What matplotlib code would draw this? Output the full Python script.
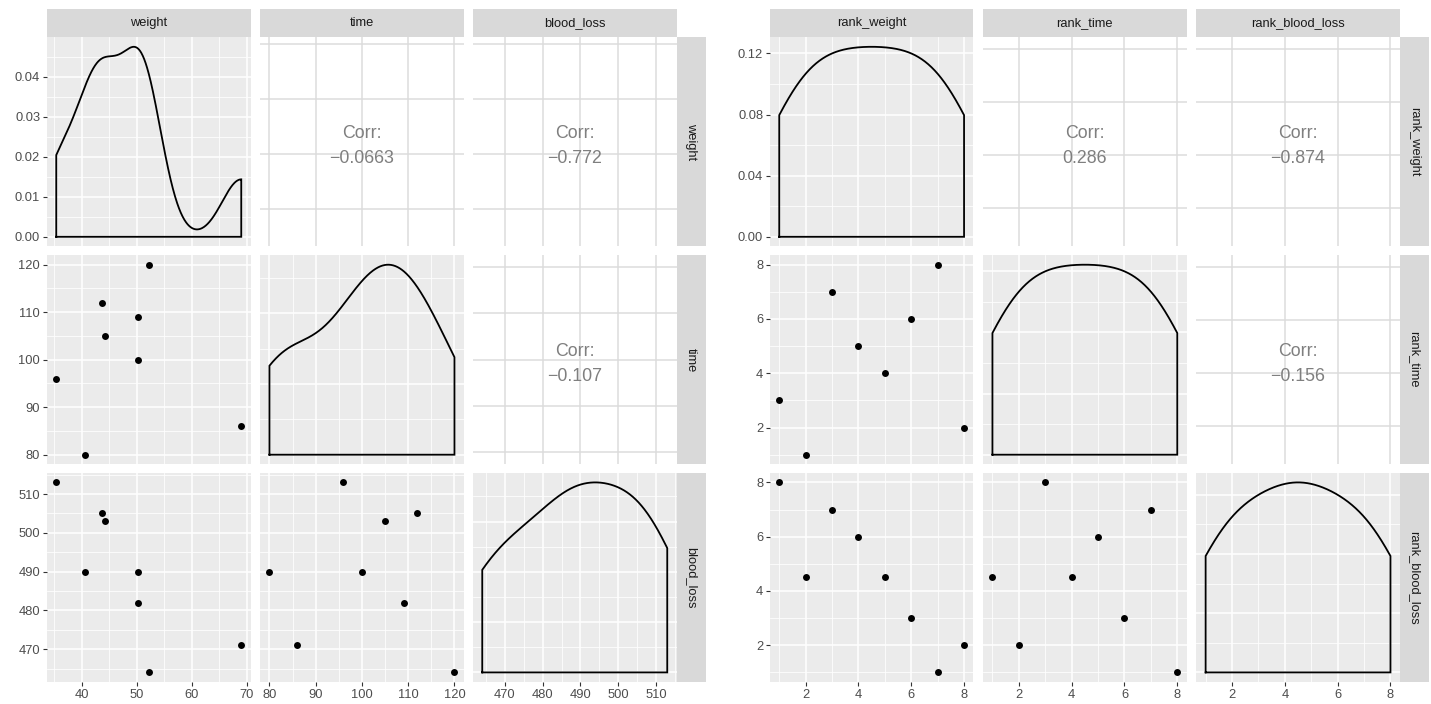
import numpy as np
import matplotlib
matplotlib.use("Agg")
import matplotlib.pyplot as plt
from matplotlib.ticker import MaxNLocator

plt.rcParams['font.family'] = ['Liberation Sans', 'DejaVu Sans']

# ---------------- data ----------------
weight = [44.3, 40.6, 69.0, 43.7, 50.3, 50.2, 35.4, 52.2]
time = [105, 80, 86, 112, 109, 100, 96, 120]
blood_loss = [503, 490, 471, 505, 482, 490, 513, 464]
rank_weight = [4, 2, 8, 3, 6, 5, 1, 7]
rank_time = [5, 1, 2, 7, 6, 4, 3, 8]
rank_blood_loss = [6, 4.5, 2, 7, 3, 4.5, 8, 1]

left_names = ["weight", "time", "blood_loss"]
right_names = ["rank_weight", "rank_time", "rank_blood_loss"]

left_corr = {(0, 1): "\u22120.0663", (0, 2): "\u22120.772", (1, 2): "\u22120.107"}
right_corr = {(0, 1): "0.286", (0, 2): "\u22120.874", (1, 2): "\u22120.156"}

weight_breaks = [40, 50, 60, 70]
time_breaks = [80, 90, 100, 110, 120]
blood_loss_breaks = [470, 480, 490, 500, 510]
rank_breaks = [2, 4, 6, 8]
density_left_breaks = [0.00, 0.01, 0.02, 0.03, 0.04]
density_right_breaks = [0.00, 0.04, 0.08, 0.12]

# ---------------- helpers ----------------
W, H = 1431, 704
fig = plt.figure(figsize=(W / 100, H / 100), dpi=100)
fig.patch.set_facecolor("white")

PANEL_BG = "#EBEBEB"
STRIP_BG = "#D9D9D9"
TICK_COL = "#333333"
LABEL_COL = "#4D4D4D"
FS_TICK = 9.3
FS_STRIP = 9.3


def rect(x0, y0, x1, y1):
    return [x0 / W, 1 - y1 / H, (x1 - x0) / W, (y1 - y0) / H]


def expand(lo, hi, f=0.05):
    d = (hi - lo) * f
    return lo - d, hi + d


def minor_breaks(b, lim):
    b = list(b)
    if len(b) < 2:
        return []
    d = b[1] - b[0]
    ext = [b[0] - d] + b + [b[-1] + d]
    mids = [(ext[i] + ext[i + 1]) / 2 for i in range(len(ext) - 1)]
    return [m for m in mids if lim[0] <= m <= lim[1]]


def bw_nrd0(x):
    x = np.asarray(x, float)
    sd = np.std(x, ddof=1)
    q75, q25 = np.percentile(x, [75, 25])
    lo = min(sd, (q75 - q25) / 1.34)
    return 0.9 * lo * len(x) ** (-0.2)


def kde(x):
    x = np.asarray(x, float)
    bw = bw_nrd0(x)
    g = np.linspace(x.min(), x.max(), 512)
    d = np.exp(-0.5 * ((g[:, None] - x[None, :]) / bw) ** 2).sum(1)
    d /= (len(x) * bw * np.sqrt(2 * np.pi))
    return g, d


def style_axes(ax, xb, xlim, yb, ylim, grid_kind, show_x, show_y, ylabels=None):
    ax.set_xlim(*xlim)
    ax.set_ylim(*ylim)
    for s in ax.spines.values():
        s.set_visible(False)
    xb = [b for b in xb if xlim[0] <= b <= xlim[1]]
    yb = [b for b in yb if ylim[0] <= b <= ylim[1]]
    ax.set_xticks(xb)
    ax.set_yticks(yb)
    ax.set_axisbelow(True)
    if grid_kind == "panel":
        ax.set_facecolor(PANEL_BG)
        ax.set_xticks(minor_breaks(xb, xlim), minor=True)
        ax.set_yticks(minor_breaks(yb, ylim), minor=True)
        ax.grid(which="major", color="white", linewidth=1.1)
        ax.grid(which="minor", color="white", linewidth=0.55)
    else:
        ax.set_facecolor("white")
        ax.grid(which="major", color="#DCDCDC", linewidth=1.1)
    ax.tick_params(which="minor", length=0)
    ax.tick_params(which="major", length=2.9, width=0.8, color=TICK_COL,
                   labelcolor=LABEL_COL, labelsize=FS_TICK, pad=2.0)
    if show_x:
        ax.set_xticklabels([("%g" % b) for b in xb])
    else:
        ax.tick_params(axis="x", which="major", length=0, labelbottom=False)
    if show_y:
        if ylabels is None:
            ylabels = [("%g" % b) for b in yb]
        ax.set_yticklabels(ylabels)
    else:
        ax.tick_params(axis="y", which="major", length=0, labelleft=False)


def strip(x0, y0, x1, y1, text, rot=0):
    sa = fig.add_axes(rect(x0, y0, x1, y1))
    sa.set_facecolor(STRIP_BG)
    sa.set_xticks([])
    sa.set_yticks([])
    for s in sa.spines.values():
        s.set_visible(False)
    sa.text(0.5, 0.5, text, transform=sa.transAxes, ha="center", va="center",
            rotation=rot, fontsize=FS_STRIP, color="#1A1A1A")


row_tops = [37.3, 255.2, 472.9]
row_h = 209.0


def draw_block(values, names, breaks, corr, dens_breaks, col_lefts, col_w, strip_w):
    lims = [expand(min(v), max(v)) for v in values]
    for i in range(3):
        for j in range(3):
            x0 = col_lefts[j]
            y0 = row_tops[i]
            ax = fig.add_axes(rect(x0, y0, x0 + col_w, y0 + row_h))
            show_x = (i == 2)
            show_y = (j == 0)
            if i == j:
                g, d = kde(values[j])
                dmax = d.max()
                ylim = (-0.05 * dmax, 1.05 * dmax)
                if i == 0:
                    yb = dens_breaks
                    labels = ["%.2f" % b for b in yb]
                else:
                    yb = list(MaxNLocator(nbins=5, steps=[1, 2, 4, 5, 10]).tick_values(*ylim))
                    labels = None
                style_axes(ax, breaks[j], lims[j], yb, ylim, "panel", show_x, show_y, labels)
                px = np.concatenate([[g[0]], g, [g[-1], g[0]]])
                py = np.concatenate([[0], d, [0, 0]])
                ax.plot(px, py, color="black", linewidth=1.3, solid_joinstyle="miter")
            elif i > j:
                style_axes(ax, breaks[j], lims[j], breaks[i], lims[i], "panel", show_x, show_y)
                ax.scatter(values[j], values[i], s=25, color="black", linewidths=0, zorder=3)
            else:
                c = (lims[i][0] + lims[i][1]) / 2
                h = (lims[i][1] - lims[i][0]) / 2 * 1.024
                style_axes(ax, breaks[j], lims[j], breaks[i], (c - h, c + h), "cor", show_x, show_y)
                ax.text(0.5, 0.479, "Corr:\n" + corr[(i, j)], transform=ax.transAxes,
                        ha="center", va="center", color="#7F7F7F", fontsize=12.8,
                        linespacing=1.62)
        # top strip
        strip(col_lefts[i], 9.0, col_lefts[i] + col_w, row_tops[0], names[i])
    right_edge = col_lefts[2] + col_w
    for i in range(3):
        strip(right_edge, row_tops[i], right_edge + strip_w, row_tops[i] + row_h, names[i], rot=-90)


draw_block([weight, time, blood_loss], left_names,
           [weight_breaks, time_breaks, blood_loss_breaks], left_corr,
           density_left_breaks, [47.0, 260.2, 473.0], 203.5, 29.0)
draw_block([rank_weight, rank_time, rank_blood_loss], right_names,
           [rank_breaks, rank_breaks, rank_breaks], right_corr,
           density_right_breaks, [770.0, 983.2, 1196.4], 203.3, 29.0)

fig.savefig("out.png", dpi=100, facecolor="white")
